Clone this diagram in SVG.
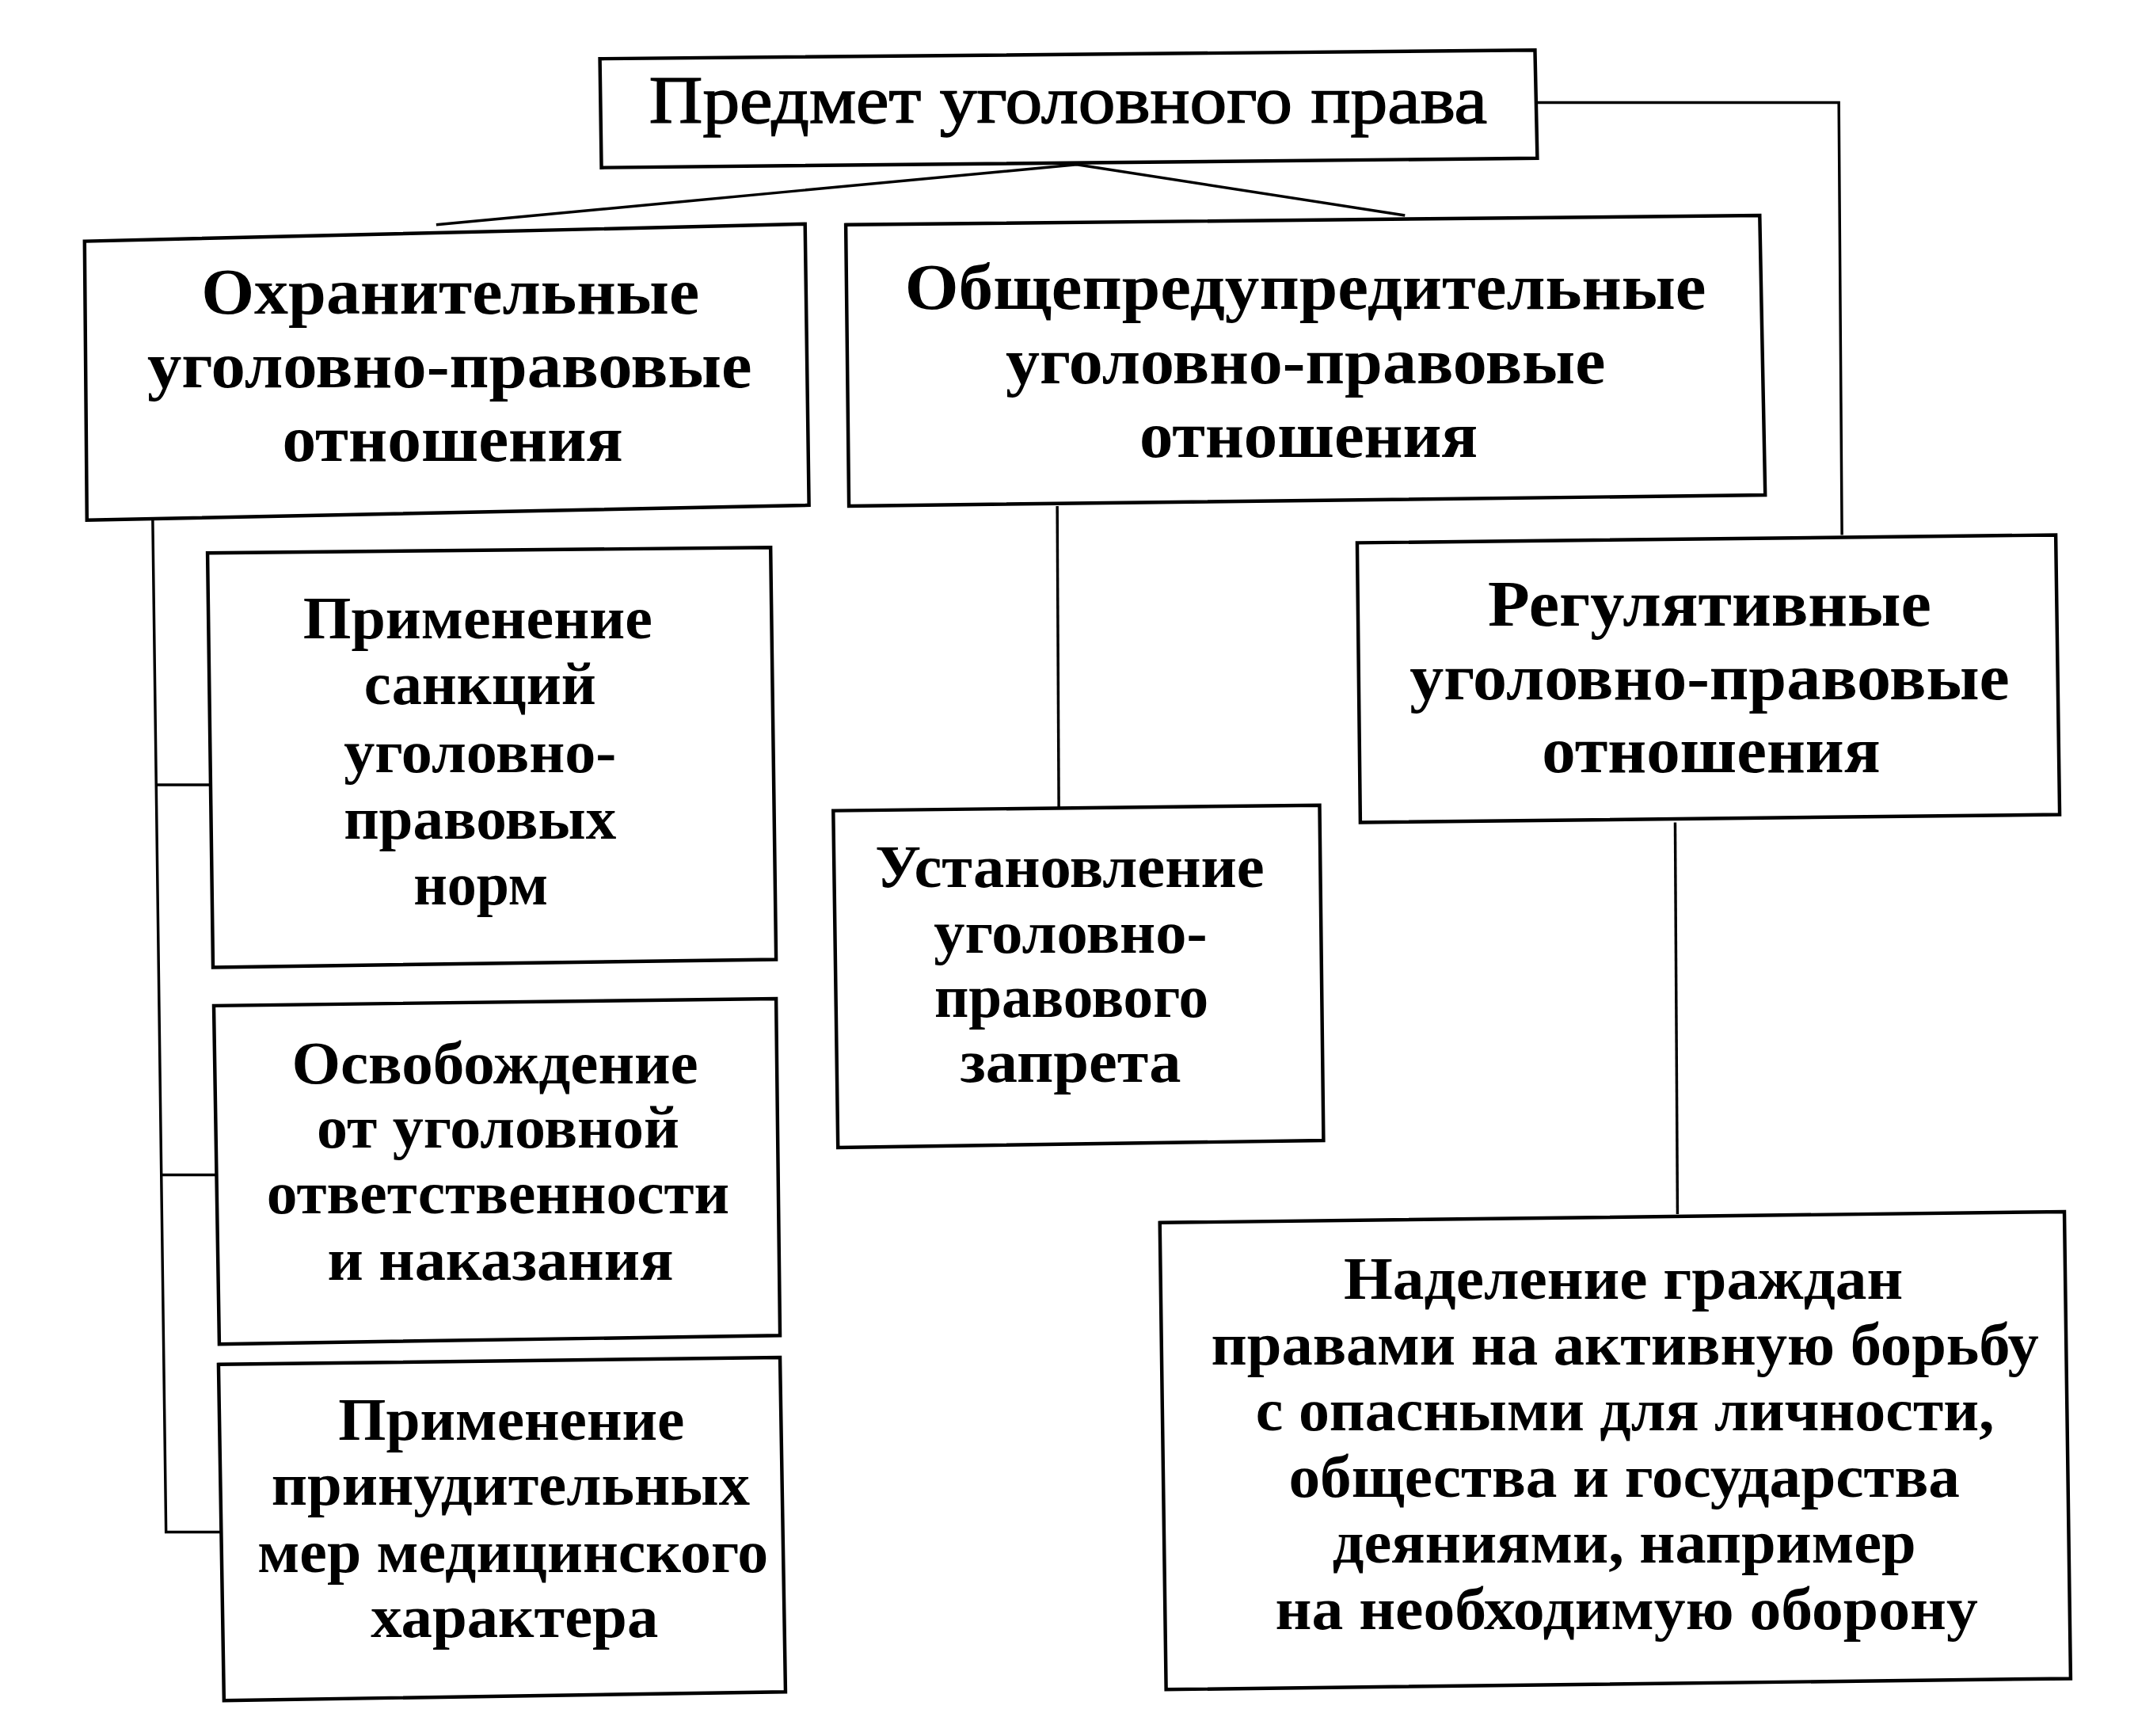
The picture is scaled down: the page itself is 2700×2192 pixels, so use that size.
<svg xmlns="http://www.w3.org/2000/svg" width="2700" height="2192" viewBox="0 0 2700 2192">
<style>
.box{fill:#fff;stroke:#000;stroke-width:4.5;stroke-linejoin:miter}
.ln{fill:none;stroke:#000;stroke-width:3.5}
text{font-family:"Liberation Serif","DejaVu Serif",serif;fill:#000;text-anchor:middle}
.hd{font-size:84px;font-weight:bold}
.tp{font-size:86px;font-weight:normal;stroke:#000;stroke-width:1.5}
.bd{font-size:76px;font-weight:bold}
.md{font-size:78px;font-weight:bold}
</style>
<rect x="0" y="0" width="2700" height="2192" fill="#fff"/>
<g id="diagram" transform="scale(0.989)">
<g id="connectors">
<polyline class="ln" points="557,287 1375,210 1794,275"/>
<polyline class="ln" points="1963,131 2348,131 2352,683"/>
<line class="ln" x1="1350" y1="646" x2="1352" y2="1031"/>
<line class="ln" x1="2139" y1="1050" x2="2142" y2="1550"/>
<polyline class="ln" points="195,664 212,1956 282,1956"/>
<line class="ln" x1="200" y1="1002" x2="268" y2="1002"/>
<line class="ln" x1="206" y1="1500" x2="277" y2="1500"/>
</g>
<g id="n_predmet">
<polygon class="box" points="766,75 1960,64 1963,202 768,214"/>
<text class="tp" x="1364" y="157" textLength="1070" lengthAdjust="spacingAndGlyphs">Предмет уголовного права</text>
</g>
<g id="n_okhr">
<polygon class="box" points="108,308 1028,286 1033,645 111,664"/>
<text class="hd" x="575" y="400" textLength="636" lengthAdjust="spacingAndGlyphs">Охранительные</text>
<text class="hd" x="574" y="494" textLength="772" lengthAdjust="spacingAndGlyphs">уголовно-правовые</text>
<text class="hd" x="578" y="588" textLength="435" lengthAdjust="spacingAndGlyphs">отношения</text>
</g>
<g id="n_obshch">
<polygon class="box" points="1080,287 2247,275 2254,632 1084,646"/>
<text class="hd" x="1667" y="394" textLength="1023" lengthAdjust="spacingAndGlyphs">Общепредупредительные</text>
<text class="hd" x="1667" y="489" textLength="766" lengthAdjust="spacingAndGlyphs">уголовно-правовые</text>
<text class="hd" x="1671" y="583" textLength="432" lengthAdjust="spacingAndGlyphs">отношения</text>
</g>
<g id="n_regul">
<polygon class="box" points="1733,693 2625,683 2630,1040 1737,1050"/>
<text class="hd" x="2183" y="799" textLength="566" lengthAdjust="spacingAndGlyphs">Регулятивные</text>
<text class="hd" x="2183" y="893" textLength="766" lengthAdjust="spacingAndGlyphs">уголовно-правовые</text>
<text class="hd" x="2185" y="986" textLength="432" lengthAdjust="spacingAndGlyphs">отношения</text>
</g>
<g id="n_sankcii">
<polygon class="box" points="265,706 984,699 991,1225 272,1235"/>
<text class="bd" x="610" y="815" textLength="446" lengthAdjust="spacingAndGlyphs">Применение</text>
<text class="bd" x="613" y="899" textLength="296" lengthAdjust="spacingAndGlyphs">санкций</text>
<text class="bd" x="613" y="986" textLength="348" lengthAdjust="spacingAndGlyphs">уголовно-</text>
<text class="bd" x="613" y="1071" textLength="348" lengthAdjust="spacingAndGlyphs">правовых</text>
<text class="bd" x="614" y="1155" textLength="172" lengthAdjust="spacingAndGlyphs">норм</text>
</g>
<g id="n_osvob">
<polygon class="box" points="273,1284 991,1275 996,1705 280,1716"/>
<text class="bd" x="632" y="1383" textLength="519" lengthAdjust="spacingAndGlyphs">Освобождение</text>
<text class="bd" x="636" y="1465" textLength="463" lengthAdjust="spacingAndGlyphs">от уголовной</text>
<text class="bd" x="636" y="1549" textLength="591" lengthAdjust="spacingAndGlyphs">ответственности</text>
<text class="bd" x="639" y="1634" textLength="442" lengthAdjust="spacingAndGlyphs">и наказания</text>
</g>
<g id="n_prinud">
<polygon class="box" points="279,1742 996,1733 1003,2160 286,2171"/>
<text class="bd" x="653" y="1838" textLength="442" lengthAdjust="spacingAndGlyphs">Применение</text>
<text class="bd" x="652" y="1921" textLength="611" lengthAdjust="spacingAndGlyphs">принудительных</text>
<text class="bd" x="655" y="2007" textLength="652" lengthAdjust="spacingAndGlyphs">мер медицинского</text>
<text class="bd" x="657" y="2090" textLength="367" lengthAdjust="spacingAndGlyphs">характера</text>
</g>
<g id="n_ustanov">
<polygon class="box" points="1064,1035 1685,1028 1690,1456 1070,1465"/>
<text class="bd" x="1366" y="1132" textLength="497" lengthAdjust="spacingAndGlyphs">Установление</text>
<text class="bd" x="1367" y="1216" textLength="349" lengthAdjust="spacingAndGlyphs">уголовно-</text>
<text class="bd" x="1368" y="1298" textLength="350" lengthAdjust="spacingAndGlyphs">правового</text>
<text class="bd" x="1367" y="1381" textLength="282" lengthAdjust="spacingAndGlyphs">запрета</text>
</g>
<g id="n_nadel">
<polygon class="box" points="1481,1561 2636,1547 2644,2143 1489,2157"/>
<text class="md" x="2073" y="1658" textLength="714" lengthAdjust="spacingAndGlyphs">Наделение граждан</text>
<text class="md" x="2075" y="1742" textLength="1057" lengthAdjust="spacingAndGlyphs">правами на активную борьбу</text>
<text class="md" x="2075" y="1826" textLength="943" lengthAdjust="spacingAndGlyphs">с опасными для личности,</text>
<text class="md" x="2074" y="1911" textLength="857" lengthAdjust="spacingAndGlyphs">общества и государства</text>
<text class="md" x="2074" y="1995" textLength="745" lengthAdjust="spacingAndGlyphs">деяниями, например</text>
<text class="md" x="2077" y="2080" textLength="897" lengthAdjust="spacingAndGlyphs">на необходимую оборону</text>
</g>
</g>
</svg>
